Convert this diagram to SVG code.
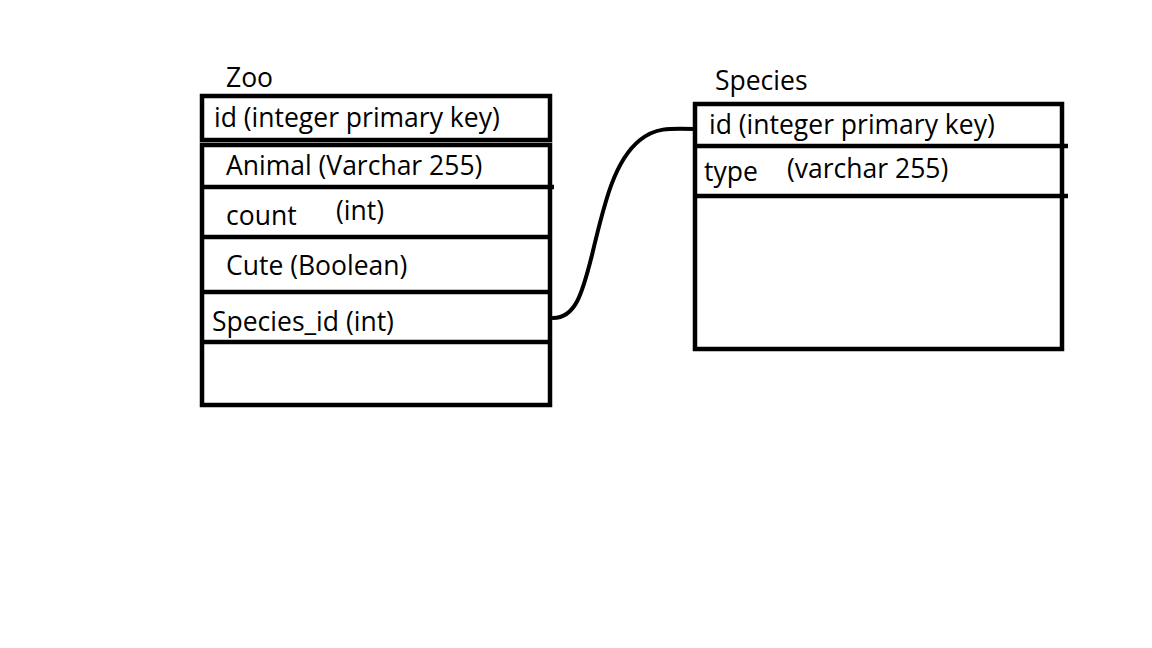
<svg xmlns="http://www.w3.org/2000/svg" width="1152" height="648" viewBox="0 0 1152 648">
<style>
text{font-family:"Open Sans","Noto Sans",sans-serif;font-size:26.5px;fill:#000}
.b{fill:none;stroke:#000;stroke-width:4.5}
.c{fill:none;stroke:#000;stroke-width:4;stroke-linecap:round}
</style>
<rect width="1152" height="648" fill="#fff"/>
<g id="zoo">
<text x="226" y="87">Zoo</text>
<rect class="b" x="202" y="96" width="348" height="44"/>
<rect class="b" x="202" y="145" width="348" height="260"/>
<line class="b" x1="202" y1="187" x2="554" y2="187"/>
<line class="b" x1="202" y1="237" x2="550" y2="237"/>
<line class="b" x1="202" y1="292" x2="552" y2="292"/>
<line class="b" x1="202" y1="342" x2="550" y2="342"/>
<text x="214" y="127">id (integer primary key)</text>
<text x="226" y="175">Animal (Varchar 255)</text>
<text x="226" y="225">count</text>
<text x="336" y="220">(int)</text>
<text x="226" y="275">Cute (Boolean)</text>
<text x="212" y="331">Species_id (int)</text>
</g>
<g id="species">
<text x="715" y="90">Species</text>
<rect class="b" x="695" y="104" width="367" height="245"/>
<line class="b" x1="695" y1="146" x2="1068" y2="146"/>
<line class="b" x1="695" y1="196" x2="1068" y2="196"/>
<text x="709" y="134">id (integer primary key)</text>
<text x="704" y="181">type</text>
<text x="787" y="178">(varchar 255)</text>
</g>
<g id="connectors">
<path class="c" d="M553,318 C575,318 582,295 592,255 C605,200 615,160 640,140 C655,128 668,128 695,129"/>
</g>
</svg>
